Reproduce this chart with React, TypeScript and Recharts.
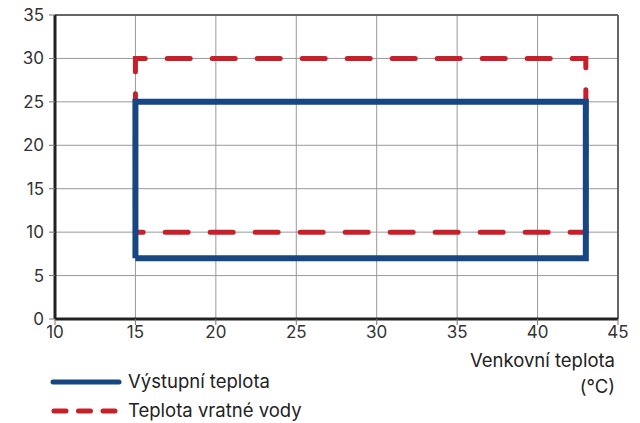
import {
  LineChart,
  Line,
  XAxis,
  YAxis,
  CartesianGrid,
  ReferenceLine,
} from 'recharts';

const xTicks = [10, 15, 20, 25, 30, 35, 40, 45];
const yTicks = [0, 5, 10, 15, 20, 25, 30, 35];

// outline of each operating range, walked as a closed path
const outletTemp = [
  { x: 15, y: 7 },
  { x: 15, y: 25 },
  { x: 43, y: 25 },
  { x: 43, y: 7 },
  { x: 15, y: 7 },
];

const returnTemp = [
  { x: 15, y: 10 },
  { x: 15, y: 30 },
  { x: 43, y: 30 },
  { x: 43, y: 10 },
  { x: 15, y: 10 },
];

const seriesNames = ['Výstupní teplota', 'Teplota vratné vody'];
const xTitle = ['Venkovní teplota', '(°C)'];

const BLUE = '#174783';
const RED = '#c8202b';
const FONT = 'Inter, "Open Sans", sans-serif';

const AxisTitle = (props: any) => {
  const vb = props.viewBox || {};
  const right = vb.x + vb.width - 3;
  return (
    <g fontFamily={FONT} fontSize={18.5} fill="#222">
      <text x={right} y={367} textAnchor="end">
        {xTitle[0]}
      </text>
      <text x={right} y={393} textAnchor="end">
        {xTitle[1]}
      </text>
    </g>
  );
};

function LegendBox() {
  return (
    <div
      style={{
        position: 'absolute',
        left: 0,
        top: 366,
        fontFamily: FONT,
        fontSize: 18.5,
        color: '#222',
      }}
    >
      <div style={{ display: 'flex', alignItems: 'center', height: 29 }}>
        <svg width={128} height={20} style={{ display: 'block' }}>
          <line x1={53} y1={11} x2={119} y2={11} stroke={BLUE} strokeWidth={5} strokeLinecap="round" />
        </svg>
        <span>{seriesNames[0]}</span>
      </div>
      <div style={{ display: 'flex', alignItems: 'center', height: 29 }}>
        <svg width={128} height={20} style={{ display: 'block' }}>
          <line
            x1={54}
            y1={11}
            x2={118}
            y2={11}
            stroke={RED}
            strokeWidth={5}
            strokeLinecap="round"
            strokeDasharray="12 12.5"
          />
        </svg>
        <span>{seriesNames[1]}</span>
      </div>
    </div>
  );
}

export default function App() {
  return (
    <div style={{ position: 'absolute', left: 0, top: 0, width: 640, height: 423 }}>
      <LineChart
        width={640}
        height={423}
        margin={{ top: 15, right: 22, left: 0, bottom: 74 }}
      >
        <CartesianGrid stroke="#999" strokeWidth={1} />
        <XAxis
          type="number"
          dataKey="x"
          domain={[10, 45]}
          ticks={xTicks}
          allowDataOverflow
          height={30}
          axisLine={{ stroke: '#222', strokeWidth: 3 }}
          tickLine={{ stroke: '#777' }}
          tickSize={6}
          tickMargin={1}
          tick={{ fill: '#333', fontSize: 17, fontFamily: FONT }}
          label={<AxisTitle />}
        />
        <YAxis
          type="number"
          dataKey="y"
          domain={[0, 35]}
          ticks={yTicks}
          allowDataOverflow
          width={55}
          axisLine={{ stroke: '#222', strokeWidth: 3 }}
          tickLine={{ stroke: '#777' }}
          tickSize={6}
          tickMargin={5}
          tick={{ fill: '#333', fontSize: 17, fontFamily: FONT }}
        />
        <ReferenceLine y={35} stroke="#666" strokeWidth={2} />
        <ReferenceLine x={45} stroke="#666" strokeWidth={2} />
        <Line
          data={returnTemp}
          dataKey="y"
          type="linear"
          stroke={RED}
          strokeWidth={5}
          strokeLinecap="round"
          strokeDasharray="23 22"
          strokeDashoffset={19.5}
          dot={false}
          isAnimationActive={false}
        />
        <Line
          data={outletTemp}
          dataKey="y"
          type="linear"
          stroke={BLUE}
          strokeWidth={6}
          strokeLinejoin="miter"
          dot={false}
          isAnimationActive={false}
        />
      </LineChart>
      <LegendBox />
    </div>
  );
}
